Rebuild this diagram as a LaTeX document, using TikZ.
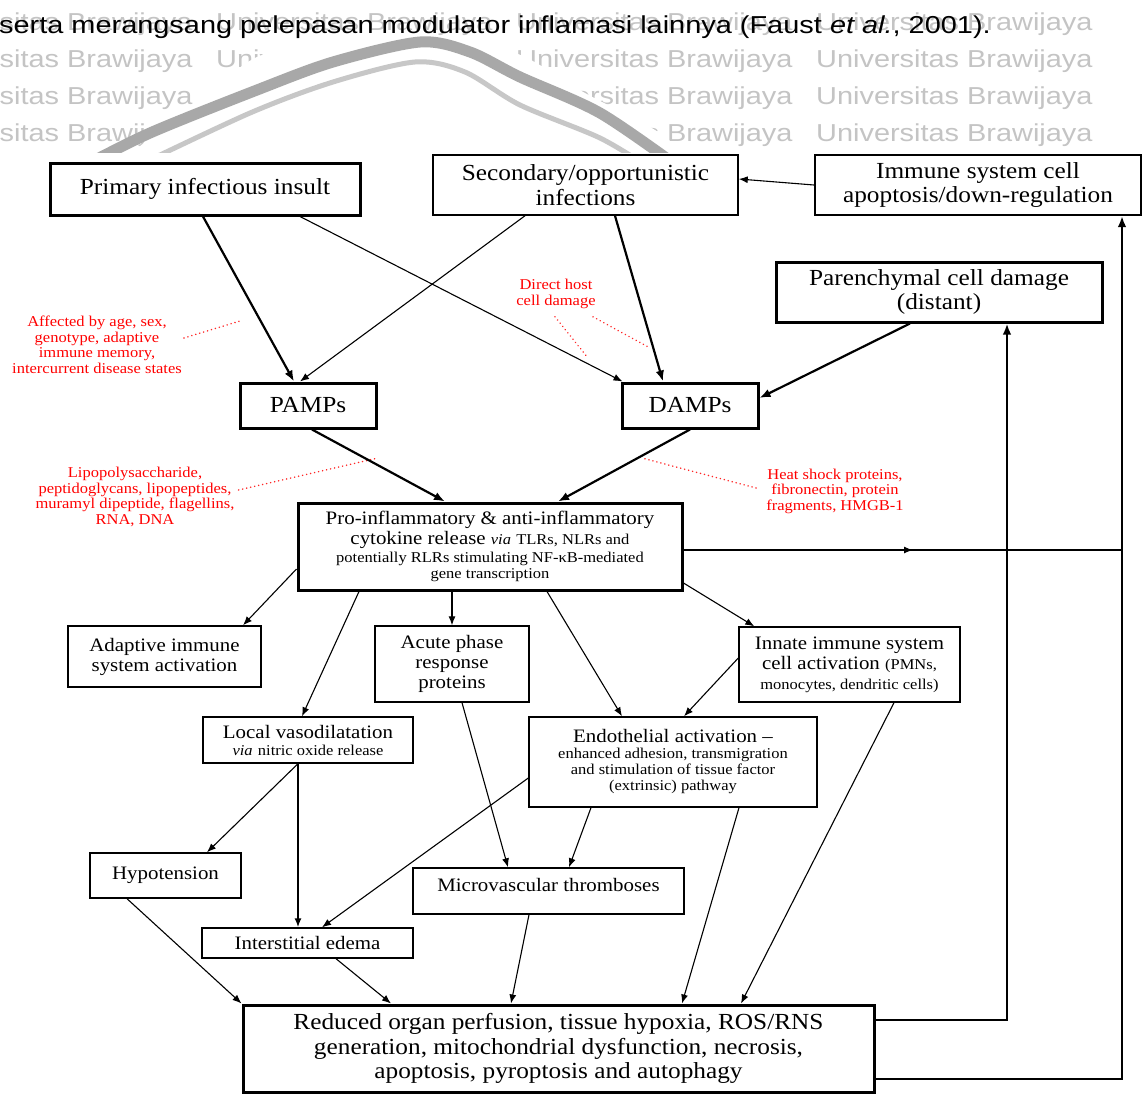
\documentclass[tikz,border=0pt]{standalone}
\usepackage{fontspec}
\setmainfont{Liberation Serif}[FakeStretch=1.1]
\newfontfamily\HdrFamily{Liberation Sans}[FakeStretch=1.18]
\usetikzlibrary{arrows.meta,calc}
\newcommand{\FBig}{\fontsize{23}{24.5}\selectfont}
\newcommand{\FMed}{\fontsize{19}{20}\selectfont}
\newcommand{\FSml}{\fontsize{15}{16}\selectfont}
\newcommand{\FRed}{\fontsize{15}{15.5}\selectfont}
\newcommand{\HdrFont}{\HdrFamily\fontsize{24.5}{28}\selectfont}
\definecolor{wmgray}{gray}{0.77}
\definecolor{bandgray}{gray}{0.66}
\definecolor{bandlight}{gray}{0.78}
\begin{document}
\begin{tikzpicture}[x=1pt,y=-1pt,
  bx/.style={draw, line width=1.4pt, inner sep=0pt, align=center},
  bxk/.style={bx, line width=3pt},
  ar/.style={-{Latex[length=9pt,width=7pt]}, line width=1.1pt},
  ark/.style={-{Latex[length=11pt,width=8.5pt]}, line width=2.2pt},
  dotl/.style={draw=red!85, line width=1.6pt, line cap=round, dash pattern=on 0.1pt off 4pt},
  lbl/.style={text=red, align=center, font=\FRed, inner sep=0pt},
  wm/.style={anchor=base west, inner sep=0pt, text=wmgray, font=\HdrFont}]
\fill[white] (0,0) rectangle (1144,1095);
\useasboundingbox (0,0) rectangle (1144,1095);

% ---------- watermark and header ----------
\begin{scope}
\clip (0,0) rectangle (1144,152);
\foreach \yy in {30,67,104,141}{
  \foreach \xx in {-84,216,516,816}{
    \node[wm, name=wm-\xx-\yy] at (\xx,\yy) {Universitas Brawijaya};}}
\fill[white] plot[smooth] coordinates {(112,170) (150,138) (200,100) (257,57) (330,42) (405,36) (470,40) (525,57) (585,93) (655,130) (705,170)} -- cycle;
\draw[bandgray, line width=11pt] plot[smooth] coordinates {(80,168) (150,133) (257,90) (333,62) (420,42) (470,52) (520,77) (600,113) (680,168)};
\draw[bandlight, line width=5pt] plot[smooth] coordinates {(133,168) (250,113) (333,82) (415,62) (465,72) (520,105) (600,138) (650,168)};
\end{scope}
\node[anchor=base west, inner sep=0pt, font=\HdrFont] (hdr) at (-1,33) {serta merangsang pelepasan modulator inflamasi lainnya (Faust \textit{et al.}, 2001).};

% ---------- boxes ----------
\node[bxk, minimum width=310pt, minimum height=52pt, font=\FBig] (prim) at (205,189) {Primary infectious insult};
\node[bx, line width=1.5pt, minimum width=305pt, minimum height=60pt, font=\FBig] (sec) at (585.5,185) {Secondary/opportunistic\\ infections};
\node[bx, line width=2pt, minimum width=326pt, minimum height=60pt, font=\FBig] (imm) at (978,185) {Immune system cell\\ apoptosis/down-regulation};
\node[bxk, minimum width=326pt, minimum height=60pt, font=\FBig] (par) at (939,292) {Parenchymal cell damage\\ (distant)};
\node[bxk, minimum width=136pt, minimum height=45pt, font=\FBig] (pamps) at (308,405.5) {PAMPs};
\node[bxk, minimum width=136pt, minimum height=45pt, font=\FBig] (damps) at (690,405.5) {DAMPs};
\node[bxk, minimum width=384pt, minimum height=87pt, font=\FMed] (pro) at (490,546.5) {Pro-inflammatory \& anti-inflammatory\\ cytokine release {\FSml\itshape via} {\FSml TLRs, NLRs and}\\[-2pt] {\FSml potentially RLRs stimulating NF-κB-mediated}\\[-4pt] {\FSml gene transcription}};
\node[bx, minimum width=193pt, minimum height=61pt, font=\FMed] (adapt) at (164.5,656.5) {Adaptive immune\\ system activation};
\node[bx, minimum width=154pt, minimum height=76pt, font=\FMed] (acute) at (452,664) {Acute phase\\ response\\ proteins};
\node[bx, minimum width=221pt, minimum height=75pt, font=\FMed] (innate) at (849.5,664.5) {Innate immune system\\ cell activation {\FSml (PMNs,}\\ {\FSml monocytes, dendritic cells)}};
\node[bx, minimum width=210pt, minimum height=46pt, font=\FMed] (local) at (308,740) {Local vasodilatation\\[-3pt] {\FSml\itshape via} {\FSml nitric oxide release}};
\node[bx, minimum width=288pt, minimum height=90pt, font=\FSml] (endo) at (673,762) {{\FMed Endothelial activation --}\\ enhanced adhesion, transmigration\\ and stimulation of tissue factor\\ (extrinsic) pathway};
\node[bx, minimum width=151pt, minimum height=45pt, font=\FMed] (hypo) at (165.5,875.5) {Hypotension};
\node[bx, minimum width=271pt, minimum height=46pt] (micro) at (548.5,891) {};
\node[font=\FMed, inner sep=0pt] (microT) at (548.5,885) {Microvascular thromboses};
\node[bx, minimum width=211pt, minimum height=30pt, font=\FMed] (inter) at (307.5,943) {Interstitial edema};
\node[bxk, minimum width=631pt, minimum height=87pt, font=\FBig] (red) at (558.5,1048.5) {Reduced organ perfusion, tissue hypoxia, ROS/RNS\\ generation, mitochondrial dysfunction, necrosis,\\ apoptosis, pyroptosis and autophagy};

% ---------- red labels ----------
\node[lbl] (aff) at (97,345) {Affected by age, sex,\\ genotype, adaptive\\ immune memory,\\ intercurrent disease states};
\node[lbl] (dh) at (556,294) {Direct host\\ cell damage};
\node[lbl] (lps) at (135,497) {Lipopolysaccharide,\\ peptidoglycans, lipopeptides,\\ muramyl dipeptide, flagellins,\\ RNA, DNA};
\node[lbl] (hsp) at (835,491) {Heat shock proteins,\\ fibronectin, protein\\ fragments, HMGB-1};

\coordinate (affE) at (240,321);
\coordinate (dh1) at (588,358);
\coordinate (dh2) at (650,348);
\coordinate (lpsE) at (378,458);
\coordinate (hspE) at (642,458);
\draw[dotl] ($(aff.east)+(2,-7)$) -- (affE);
\draw[dotl] ($(dh.south)+(-1,8)$) -- (dh1);
\draw[dotl] ($(dh.south)+(37,8)$) -- (dh2);
\draw[dotl] ($(lps.east)+(4,-7)$) -- (lpsE);
\draw[dotl] ($(hsp.west)+(-10,-3)$) -- (hspE);

% ---------- connectors ----------
\draw[ark] ($(prim.south)+(-2,0)$) -- ($(pamps.north)+(-14,0)$);
\draw[ar] ($(sec.south)+(-60.5,0)$) -- ($(pamps.north)+(-8,0)$);
\draw[ark] ($(sec.south)+(29.5,0)$) -- ($(damps.north)+(-27,0)$);
\draw[ar] ($(prim.south)+(95,0)$) -- ($(damps.north west)+(2,0)$);
\draw[ark] ($(par.south)+(-29,0)$) -- ($(damps.east)+(0,-7.5)$);
\draw[ar] (imm.west) -- ($(sec.east)+(0,-6)$);
\draw[ark] ($(pamps.south)+(4,0)$) -- ($(pro.north)+(-45,0)$);
\draw[ark] (damps.south) -- ($(pro.north)+(68,0)$);

\draw[ar] ($(pro.west)+(0,22.5)$) -- ($(adapt.north)+(78.5,0)$);
\draw[ar] ($(pro.south)+(-131,0)$) -- ($(local.north)+(-6,0)$);
\draw[ar] ($(pro.south)+(-38,0)$) -- (acute.north);
\draw[ar] ($(pro.south)+(57,0)$) -- ($(endo.north)+(-51,0)$);
\draw[ar] ($(pro.east)+(0,36.5)$) -- ($(innate.north west)+(16,0)$);

\coordinate (J) at (1122,550);
\coordinate (M) at (913,550);
\draw[line width=1.3pt] ($(pro.east)+(0,3.5)$) -- (J);
\draw[ar, line width=1.3pt] ($(pro.east)+(0,3.5)$) -- (M);

\draw[ar] ($(innate.west)+(0,-6.5)$) -- ($(endo.north)+(11,0)$);
\draw[ar] ($(innate.south)+(44.5,0)$) -- ($(red.north)+(182.5,0)$);
\draw[ar] ($(acute.south)+(10,0)$) -- ($(micro.north)+(-40.5,0)$);
\draw[ar] ($(endo.south)+(-82,0)$) -- ($(micro.north)+(20.5,0)$);
\draw[ar] ($(endo.west)+(0,16)$) -- ($(inter.north)+(14.5,0)$);
\draw[ar] ($(endo.south)+(66,0)$) -- ($(red.north)+(123.5,0)$);
\draw[ar] ($(local.south)+(-10,0)$) -- ($(hypo.north)+(41.5,0)$);
\draw[ar, line width=1.5pt] ($(local.south)+(-10,0)$) -- ($(inter.north)+(-9.5,0)$);
\draw[ar] ($(hypo.south)+(-38.5,0)$) -- (red.north west);
\draw[ar] ($(inter.south)+(28.5,0)$) -- ($(red.north)+(-167.5,0)$);
\draw[ar] ($(micro.south)+(-19.5,0)$) -- ($(red.north)+(-47.5,0)$);

\draw[ark, line width=2.4pt] ($(red.east)+(0,30.5)$) -| ($(imm.south)+(144,0)$);
\draw[ark, line width=2.4pt] ($(red.east)+(0,-28.5)$) -| ($(par.south)+(68,0)$);
\end{tikzpicture}
\end{document}
